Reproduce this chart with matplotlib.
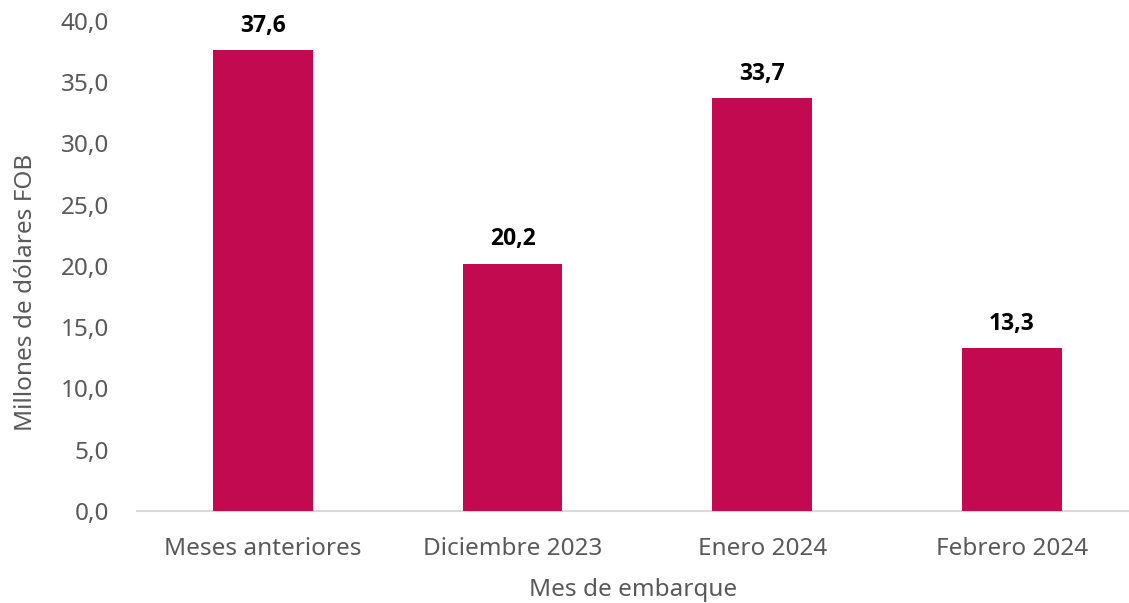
import matplotlib
import matplotlib.pyplot as plt
from matplotlib.ticker import FuncFormatter

matplotlib.use("Agg")

categorias = ["Meses anteriores", "Diciembre 2023", "Enero 2024", "Febrero 2024"]
valores = [37.6, 20.2, 33.7, 13.3]
y_ticks = [0, 5, 10, 15, 20, 25, 30, 35, 40]

plt.rcParams["font.family"] = ["Noto Sans", "DejaVu Sans"]
gris = "#595959"

fig = plt.figure(figsize=(11.29, 6.03), dpi=100)
ax = fig.add_axes([0.1213, 0.1526, 0.8787, 0.8126])

x = list(range(len(categorias)))
ax.bar(x, valores, width=0.4, color="#C20A50", zorder=3)

# Etiquetas de valores sobre las barras
for xi, v in zip(x, valores):
    ax.text(xi, v + 1.0, f"{v:.1f}".replace(".", ","), ha="center", va="bottom",
            fontsize=16.5, fontweight="bold", color="black",
            family=["Open Sans", "DejaVu Sans"])

ax.set_xlim(-0.505, 3.47)
ax.set_ylim(0, 40)
ax.set_yticks(y_ticks)
ax.yaxis.set_major_formatter(FuncFormatter(lambda v, p: f"{v:.1f}".replace(".", ",")))
ax.set_xticks(x)
ax.set_xticklabels(categorias)

for s in ["top", "right", "left"]:
    ax.spines[s].set_visible(False)
ax.spines["bottom"].set_color("#D9D9D9")
ax.spines["bottom"].set_linewidth(1.5)
ax.tick_params(axis="both", length=0, labelsize=17.5, labelcolor=gris)
ax.tick_params(axis="x", pad=19)
ax.tick_params(axis="y", pad=20)

ax.set_xlabel("Mes de embarque", fontsize=17.5, color=gris, labelpad=12)
ax.set_ylabel("Millones de dólares FOB", fontsize=17.5, color=gris)
ax.yaxis.set_label_coords(-0.1, 0.447)

plt.savefig("out.png", dpi=100)
plt.close()
